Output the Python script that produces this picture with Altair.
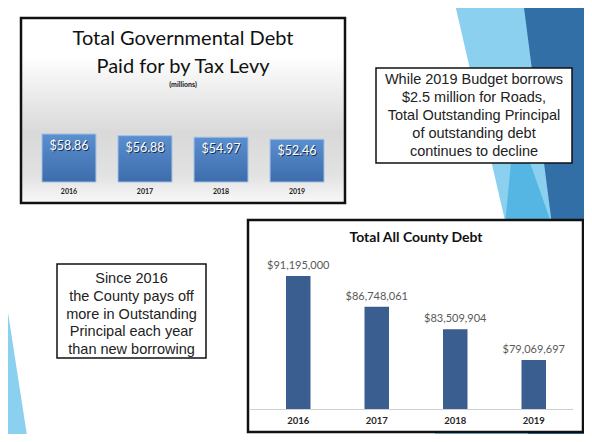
import altair as alt
import pandas as pd

# ---- data ----
years = ["2016", "2017", "2018", "2019"]
levy_millions = [58.86, 56.88, 54.97, 52.46]
levy_labels = ["$58.86", "$56.88", "$54.97", "$52.46"]
county_debt = [91195000, 86748061, 83509904, 79069697]
county_labels = ["$91,195,000", "$86,748,061", "$83,509,904", "$79,069,697"]

title_top = ["Total Governmental Debt", "Paid for by Tax Levy"]
subtitle_top = "(millions)"
title_bottom = "Total All County Debt"
note_right = ["While 2019 Budget borrows", "$2.5 million for Roads,",
              "Total Outstanding Principal", "of outstanding debt",
              "continues to decline"]
note_left = ["Since 2016", "the County pays off", "more in Outstanding",
             "Principal each year", "than new borrowing"]

W, H = 576, 426
one = pd.DataFrame({"k": [0]})


def shape(path, color):
    return alt.Chart(one).mark_point(
        shape=path, size=4, filled=True, color=color, fill=color,
        opacity=1, strokeWidth=0
    ).encode(x=alt.value(0), y=alt.value(0))


def box(x, x2, y, y2, fill="white", stroke="#111111", sw=1.5):
    return alt.Chart(one).mark_rect(fill=fill, stroke=stroke, strokeWidth=sw).encode(
        x=alt.value(x), x2=alt.value(x2), y=alt.value(y), y2=alt.value(y2))


def label(txt, x, y, size, font="Lato", bold=False, color="#111111", lh=None):
    kw = dict(font=font, fontSize=size, fontWeight="bold" if bold else "normal",
              color=color, align="center", baseline="middle")
    if lh is not None:
        kw["lineHeight"] = lh
    return alt.Chart(one).mark_text(**kw).encode(
        x=alt.value(x), y=alt.value(y), text=alt.value(txt))


# ---- slide decoration ----
deco = [
    shape("M446,-8L592,-8L592,434L424,434L498,217Z", "#8bd1ef"),
    shape("M507,112L544,217L517,322L497,217Z", "#55b6e4"),
    shape("M515,-8L592,-8L592,434L519,434L544,217Z", "#326fa6"),
    shape("M-8,272L-5,272L20,434L-8,434Z", "#8bd1ef"),
]

# ---- top chart ----
grad_bg = alt.LinearGradient(
    gradient="linear", x1=0, x2=0, y1=0, y2=1,
    stops=[alt.GradientStop(color="#ffffff", offset=0),
           alt.GradientStop(color="#ffffff", offset=0.2),
           alt.GradientStop(color="#d9d9d9", offset=0.62),
           alt.GradientStop(color="#e2e2e2", offset=0.85),
           alt.GradientStop(color="#f8f8f8", offset=1)])
grad_bar = alt.LinearGradient(
    gradient="linear", x1=0, x2=0, y1=0, y2=1,
    stops=[alt.GradientStop(color="#5a8fd0", offset=0),
           alt.GradientStop(color="#3d6cab", offset=1)])

df1 = pd.DataFrame({"year": years, "val": levy_millions, "lab": levy_labels})
x1 = alt.X("year:N", scale=alt.Scale(range=[34, 316], paddingInner=0.29, paddingOuter=0), axis=None)
y1 = alt.Y("val:Q", scale=alt.Scale(domain=[0, 100], range=[174, 92.5]), axis=None)
base1 = alt.Chart(df1)
top_chart = alt.layer(
    base1.mark_bar(fill=grad_bar, stroke="#a3c0e4", strokeWidth=1).encode(x=x1, y=y1),
    base1.mark_text(font="Lato", fontSize=12.5, color="#1c2d48", baseline="middle",
                    dy=13, dx=1).encode(x=x1, y=y1, text="lab:N"),
    base1.mark_text(font="Lato", fontSize=12.5, color="#ffffff", baseline="middle",
                    dy=12).encode(x=x1, y=y1, text="lab:N"),
    base1.mark_text(font="Lato", fontSize=7, fontWeight="bold", color="#222222",
                    baseline="middle").encode(x=x1, y=alt.value(184), text="year:N"),
)

# ---- bottom chart ----
df2 = pd.DataFrame({"year": years, "debt": county_debt, "lab": county_labels})
x2 = alt.X("year:N", scale=alt.Scale(range=[278, 538], paddingInner=0.688, paddingOuter=0), axis=None)
y2 = alt.Y("debt:Q", scale=alt.Scale(domain=[72000000, 94000000], range=[401, 248.5], zero=False), axis=None)
base2 = alt.Chart(df2)
bottom_chart = alt.layer(
    base2.mark_bar(color="#395e8f").encode(x=x2, y=y2, y2=alt.datum(72000000)),
    base2.mark_text(font="Lato", fontSize=11, color="#595959", baseline="middle",
                    dy=-10).encode(x=x2, y=y2, text="lab:N"),
    base2.mark_text(font="Lato", fontSize=9.5, fontWeight="bold", color="#262626",
                    baseline="middle").encode(x=x2, y=alt.value(413), text="year:N"),
)

layers = deco + [
    box(13, 337, 10, 195, fill=grad_bg, sw=2.5),
    label(title_top[0], 175, 31, 20),
    label(title_top[1], 175, 59, 20),
    label(subtitle_top, 175, 77, 7, bold=True),
    box(368, 564, 60, 155, sw=1.5),
    label(note_right, 466, 72, 14.5, font="Liberation Sans", color="#222222", lh=18),
    box(49, 198, 256, 350, sw=1.5),
    label(note_left, 123.5, 271, 14.5, font="Liberation Sans", color="#222222", lh=17.8),
    box(240, 575, 212, 424, sw=2.5),
    label(title_bottom, 408, 230, 14, bold=True),
    alt.Chart(one).mark_rule(color="#d0d0d0", strokeWidth=1).encode(
        x=alt.value(242), x2=alt.value(565), y=alt.value(401.5)),
    top_chart,
    bottom_chart,
]

chart = alt.layer(*layers).resolve_scale(
    x="independent", y="independent"
).properties(
    width=W, height=H, padding=0,
    autosize=alt.AutoSizeParams(type="none"),
    background="white",
).configure_view(stroke=None)

chart.save("out.html", embed_options={"renderer": "svg", "actions": False})
